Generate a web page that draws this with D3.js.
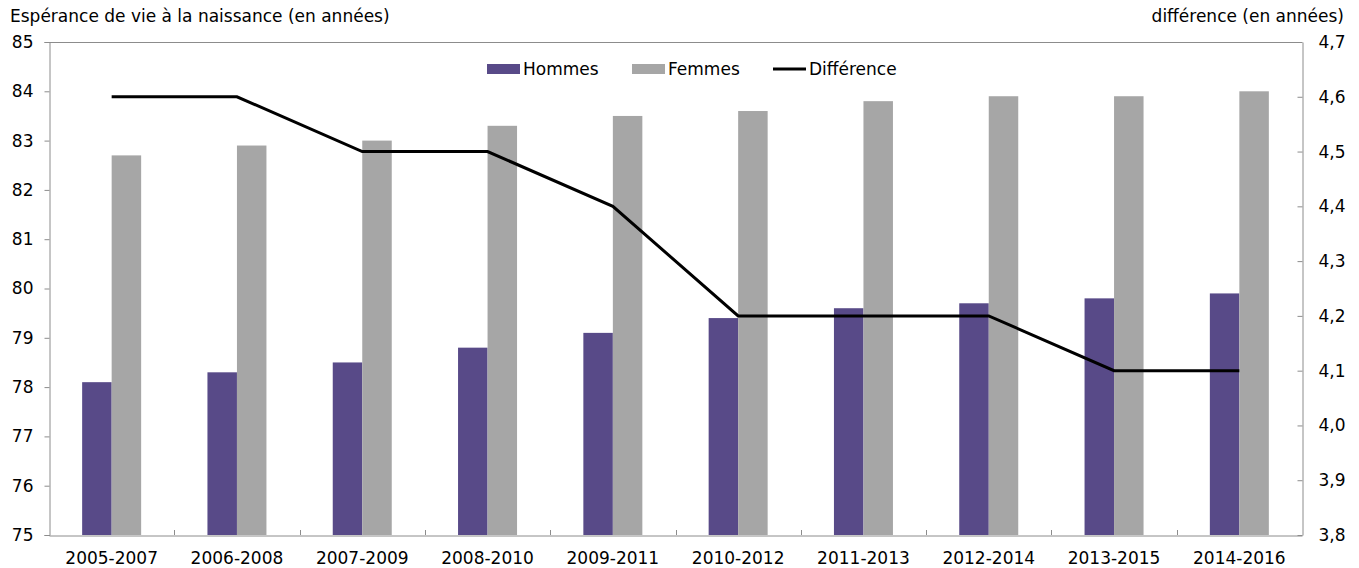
<!DOCTYPE html>
<html><head><meta charset="utf-8">
<script src="https://cdn.jsdelivr.net/npm/d3@7"></script>
<style>
body{margin:0;background:#fff;}
text{font-family:"DejaVu Sans",Verdana,sans-serif;fill:#000;}
</style></head>
<body><svg id="c" width="1359" height="568"></svg>
<script>
const categories=["2005-2007","2006-2008","2007-2009","2008-2010","2009-2011","2010-2012","2011-2013","2012-2014","2013-2015","2014-2016"];
const hommes=[78.1,78.3,78.5,78.8,79.1,79.4,79.6,79.7,79.8,79.9];
const femmes=[82.7,82.9,83.0,83.3,83.5,83.6,83.8,83.9,83.9,84.0];
const difference=[4.6,4.6,4.5,4.5,4.4,4.2,4.2,4.2,4.1,4.1];
const leftTicks=[75,76,77,78,79,80,81,82,83,84,85];
const rightTicks=[3.8,3.9,4.0,4.1,4.2,4.3,4.4,4.5,4.6,4.7];

const svg=d3.select("#c");
const L=49,R=1302,T=42,B=535;
const fs=17;
const axisCol="#8c8c8c";
const x=d3.scaleBand().domain(categories).range([L,R]).paddingInner(0).paddingOuter(0);
const y=d3.scaleLinear().domain([75,85]).range([B,T]);
const y2=d3.scaleLinear().domain([3.8,4.7]).range([B,T]);
const bw=29.5;

// top border
svg.append("line").attr("x1",L).attr("x2",R).attr("y1",T+0.5).attr("y2",T+0.5).attr("stroke",axisCol);

// bars
const g=svg.append("g");
g.selectAll(".h").data(categories).join("rect")
 .attr("x",d=>x(d)+x.bandwidth()/2-bw).attr("width",bw)
 .attr("y",(d,i)=>y(hommes[i])).attr("height",(d,i)=>B-y(hommes[i]))
 .attr("fill","#584a88");
g.selectAll(".f").data(categories).join("rect")
 .attr("x",d=>x(d)+x.bandwidth()/2).attr("width",bw)
 .attr("y",(d,i)=>y(femmes[i])).attr("height",(d,i)=>B-y(femmes[i]))
 .attr("fill","#a6a6a6");

// axes
const la=svg.append("g").attr("transform",`translate(${L+0.5},0)`)
 .call(d3.axisLeft(y).tickValues(leftTicks).tickSize(5).tickPadding(11).tickFormat(d3.format("d")));
const ra=svg.append("g").attr("transform",`translate(${R+0.5},0)`)
 .call(d3.axisRight(y2).tickValues(rightTicks).tickSizeInner(-5).tickSizeOuter(0).tickPadding(16).tickFormat(d=>d3.format(".1f")(d).replace(".",",")));
const ba=svg.append("g").attr("transform",`translate(0,${B+0.5})`)
 .call(d3.axisBottom(x).tickSize(0).tickPadding(16));
// between-category ticks
const bounds=categories.slice(1).map(c=>x(c));
svg.append("g").selectAll("line").data(bounds).join("line")
 .attr("x1",d=>Math.round(d)+0.5).attr("x2",d=>Math.round(d)+0.5).attr("y1",B-5).attr("y2",B)
 .attr("stroke",axisCol);
[la,ra,ba].forEach(a=>{
 a.selectAll("path").attr("stroke",axisCol);
 a.selectAll("line").attr("stroke",axisCol);
 a.selectAll("text").style("font-size",fs+"px").attr("font-family","'DejaVu Sans',Verdana,sans-serif");
});
ra.selectAll("text").attr("x",16);

// line
const line=d3.line().x((d,i)=>x(categories[i])+x.bandwidth()/2).y(d=>y2(d));
svg.append("path").datum(difference).attr("d",line).attr("fill","none").attr("stroke","#000").attr("stroke-width",3).attr("stroke-linejoin","miter");

// titles
svg.append("text").attr("x",10).attr("y",22).style("font-size",fs+"px").text("Espérance de vie à la naissance (en années)");
svg.append("text").attr("x",1344).attr("y",22).attr("text-anchor","end").style("font-size",fs+"px").text("différence (en années)");

// legend
const lg=svg.append("g");
const items=[{n:"Hommes",t:"bar",c:"#584a88",x:487},{n:"Femmes",t:"bar",c:"#a6a6a6",x:632},{n:"Différence",t:"line",c:"#000",x:773}];
items.forEach(it=>{
 if(it.t==="bar") lg.append("rect").attr("x",it.x).attr("y",64).attr("width",33).attr("height",10).attr("fill",it.c);
 else lg.append("line").attr("x1",it.x).attr("x2",it.x+33).attr("y1",69).attr("y2",69).attr("stroke",it.c).attr("stroke-width",3);
 lg.append("text").attr("x",it.x+36).attr("y",75).style("font-size",fs+"px").text(it.n);
});
</script></body></html>
